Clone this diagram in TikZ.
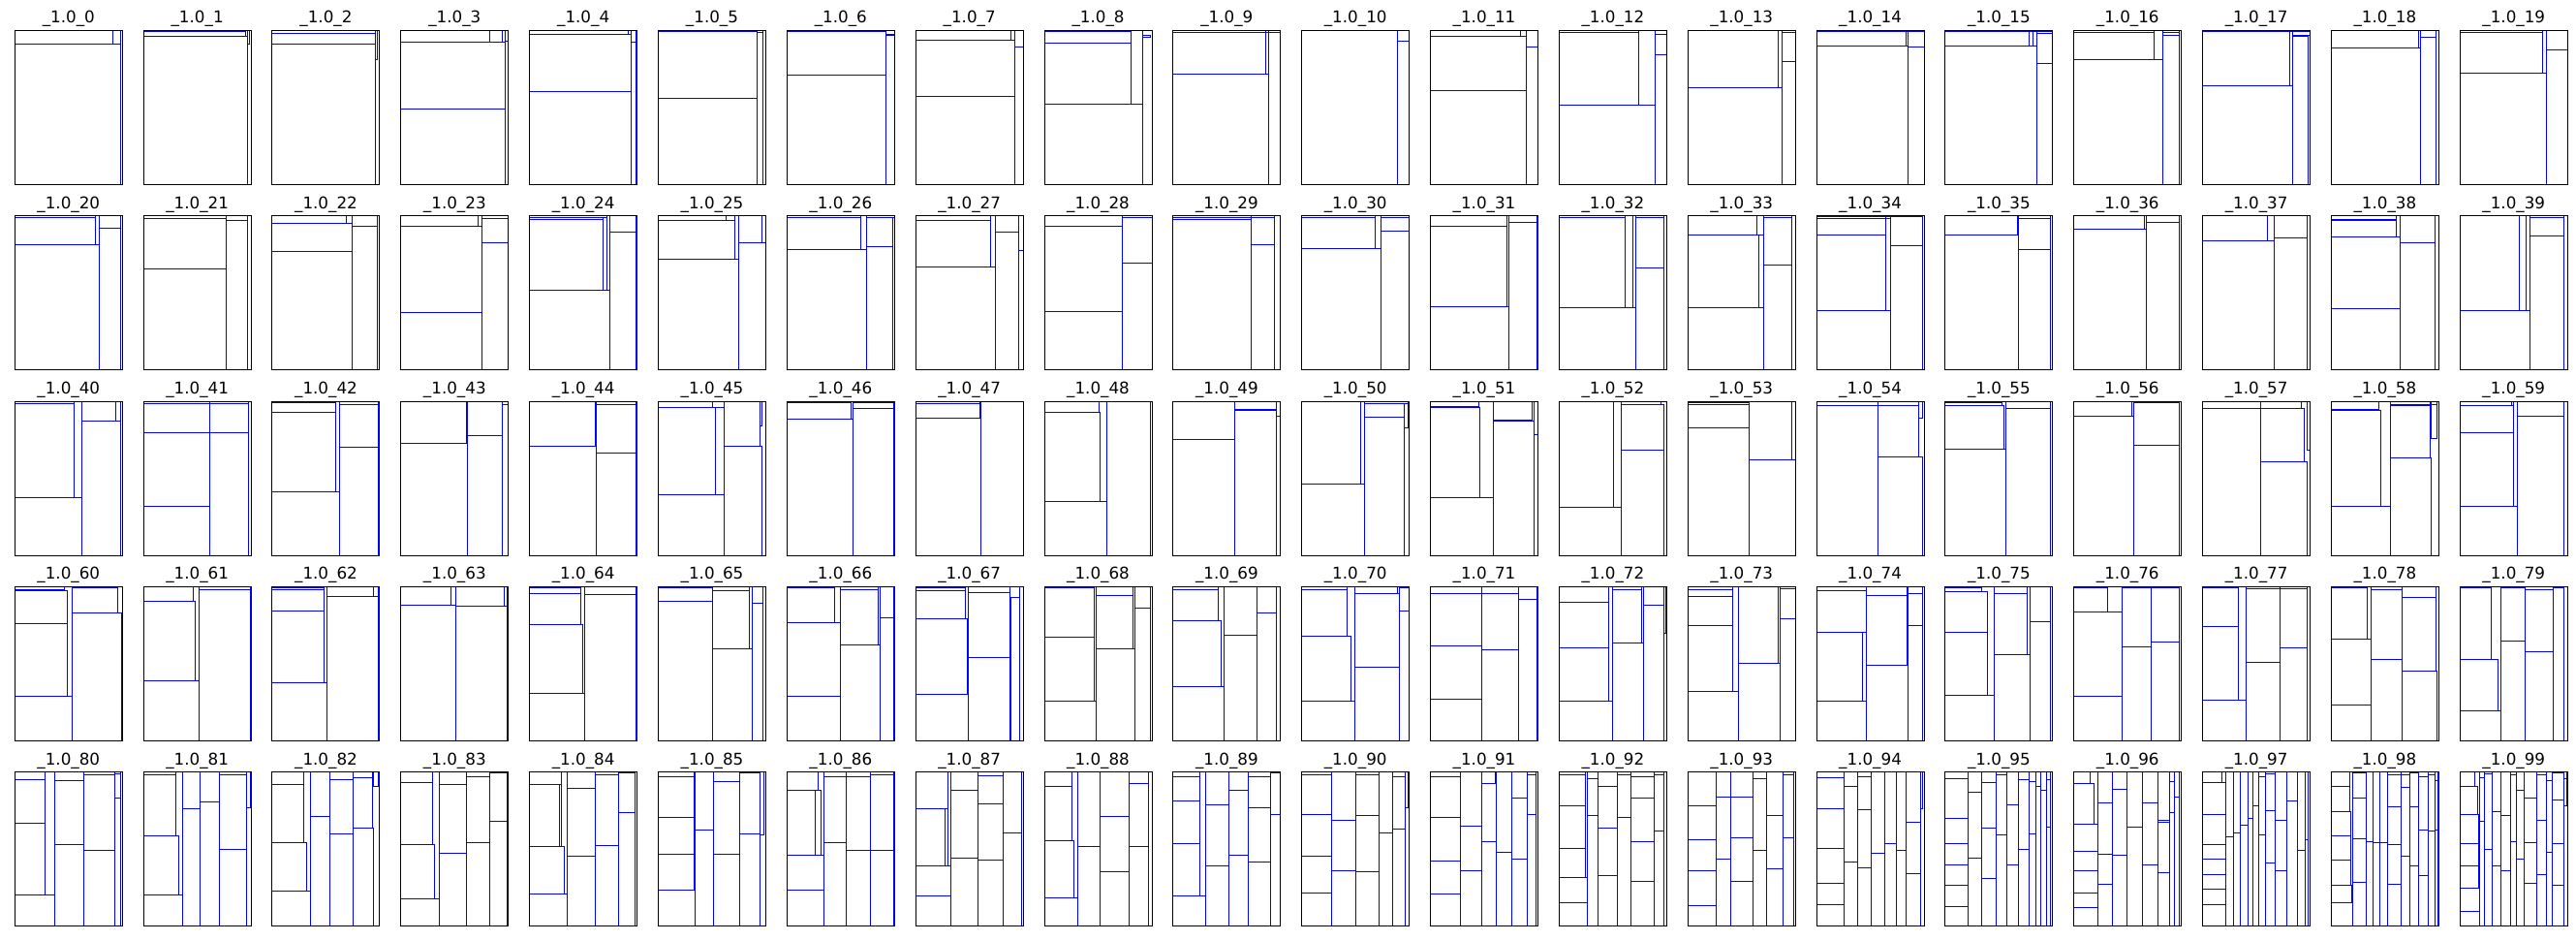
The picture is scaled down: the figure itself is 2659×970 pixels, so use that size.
\documentclass[tikz,border=0pt]{standalone}
\usepackage{fontspec}
\setmainfont{DejaVu Sans}
\tikzset{
  rc/.style={draw=blue, line width=0.3mm},
  frame/.style={draw=black, line width=0.3mm},
  ttl/.style={anchor=base, inner sep=0pt, font=\fontsize{14.3}{17}\selectfont}
}
\newcommand\pnl[4]{%
  \begin{scope}[shift={({15.3+#1*132.84},{31.3+#2*191.35})}]
    \foreach \a/\b/\c/\d in {#4} {\draw[rc] ({\a*1.11},{\b*1.59}) rectangle ({\c*1.11},{\d*1.59});}
    \draw[frame] (0,0) rectangle (111,159);
    \node[ttl] (t#3) at (55.5,-7.5) {\_1.0\_#3};
  \end{scope}}
\begin{document}
\begin{tikzpicture}[x=0.3mm,y=-0.3mm]
\useasboundingbox (0,0) rectangle (2659,970);
% row 0
\pnl{0}{0}{0}{0/0/91.5/8.8, 91.5/0/98.5/8.8, 0/8.8/98.5/100}
\pnl{1}{0}{1}{0/0.7/95.2/3.8, 95.2/0/97/3.8, 0/3.8/97/100, 97/0/98.8/9}
\pnl{2}{0}{2}{0/0/96/1.7, 0/1.7/96/8.8, 0/8.8/96/100, 96/0/98/19}
\pnl{3}{0}{3}{0/0/83/7.8, 83/0/94/7.8, 94/0/97/7.8, 0/7.8/97/51, 0/51/97/100, 97/0/100/7}
\pnl{4}{0}{4}{0/0/91.5/2.5, 91.5/0/94/2.5, 0/2.5/94/40, 0/40/94/100, 94/0/99/7.8, 94/7.8/99/100}
\pnl{5}{0}{5}{0/0/92.3/1, 0/1/92.3/44.4, 0/44.4/92.3/100, 92.3/0/97/1.5, 92.3/1.5/97/100}
\pnl{6}{0}{6}{0/0/92.3/1, 0/1/92.3/29, 0/29/92.3/100, 92.3/0/100/2.5, 92.3/2.5/100/3.5}
\pnl{7}{0}{7}{0/0/89/6.5, 89/0/92.3/6.5, 0/6.5/92.3/43, 0/43/92.3/100, 92.3/0/100/10.5, 92.3/10.5/100/100}
\pnl{8}{0}{8}{0/0/81/1, 0/1/81/8.6, 0/8.6/81/48, 81/0/91/48, 0/48/91/100, 91/3.5/99/4.5}
\pnl{9}{0}{9}{0/0/86/1.5, 0/1.5/86/28.7, 86/1.5/89/28.7, 0/28.7/89/100, 89/0/100/1.5, 89/1.5/100/100}
\pnl{10}{0}{10}{0/0/89/100, 89/0/100/7.3}
\pnl{11}{0}{11}{0/0/84/4.2, 84/0/89/4.2, 0/4.2/89/39, 0/39/89/100, 89/0/100/11, 89/11/100/100}
\pnl{12}{0}{12}{0/0/74/1.5, 0/1.5/74/48.8, 74/0/89/48.8, 0/48.8/89/100, 89/0/100/2.9, 89/2.9/100/15.7, 89/15.7/100/100}
\pnl{13}{0}{13}{0/0/84/37.5, 84/0/87.7/37.5, 0/37.5/87.7/100, 87.7/0/100/1.3, 87.7/1.3/100/20.5, 87.7/20.5/100/100}
\pnl{14}{0}{14}{0/0/100/0.5, 0/0.5/83/10, 83/0.5/85.4/10, 0/10/85.4/100, 85.4/0.5/100/11, 85.4/11/100/100}
\pnl{15}{0}{15}{0/0/100/0.5, 0/0.5/77.7/10, 77.7/0.5/82/10, 82/0.5/85.4/10, 0/10/85.4/100, 85.4/0.5/100/1.9, 85.4/1.9/100/21.4, 85.4/21.4/100/100}
\pnl{16}{0}{16}{0/0/74.6/1.5, 0/1.5/74.6/19, 74.6/0/83/19, 0/19/83/100, 83/0/98/1.5, 83/1.5/98/3, 83/3/98/100}
\pnl{17}{0}{17}{0/0/100/0.5, 0/0.5/80.8/36, 80.8/0.5/83.8/36, 0/36/83.8/100, 83.8/0.5/100/3, 83.8/3/97.7/4, 83.8/4/97.7/100}
\pnl{18}{0}{18}{0/0/80.8/11.7, 80.8/0/83/11.7, 0/11.7/83/100, 83/0/97/4.8, 83/4.8/97/100}
\pnl{19}{0}{19}{0/0/77/1.5, 0/1.5/77/27.5, 77/0/80/27.5, 0/27.5/80/100, 80/0/100/13, 80/13/100/100}
% row 1
\pnl{0}{1}{20}{0/0/75.4/1.2, 0/1.2/75.4/18.5, 75.4/0/78.5/18.5, 0/18.5/78.5/100, 78.5/0/98.5/7.9, 78.5/7.9/98.5/100}
\pnl{1}{1}{21}{0/0/77/1.5, 0/1.5/77/34.4, 0/34.4/77/100, 77/0/97/3.1, 77/3.1/97/100}
\pnl{2}{1}{22}{0/0/69/4.8, 69/0/74.6/4.8, 0/4.8/74.6/23, 0/23/74.6/100, 74.6/0/98/6.7, 74.6/6.7/98/100}
\pnl{3}{1}{23}{0/0/72/6.7, 72/0/75.4/6.7, 0/6.7/75.4/62.5, 0/62.5/75.4/100, 75.4/0/100/2, 75.4/2/100/17.5, 75.4/17.5/100/100}
\pnl{4}{1}{24}{0/0/72/1, 0/1/68.5/2.5, 0/2.5/68.5/48.5, 68.5/1/72/48.5, 0/48.5/74.6/100, 74.6/0/99/10.4, 74.6/10.4/99/100}
\pnl{5}{1}{25}{0/0/63/3.1, 63/0/71.5/3.1, 0/3.1/71.5/28, 71.5/0/74.6/28, 0/28/74.6/100, 74.6/0/96/17.3, 74.6/17.3/100/100}
\pnl{6}{1}{26}{0/0/69/1, 0/1/69/22, 69/0/74/22, 0/22/74/100, 74/0/100/1, 74/1/98.5/19.8, 74/19.8/98.5/100}
\pnl{7}{1}{27}{0/0/70/3.3, 0/3.3/70/33.5, 70/0/74/33.5, 0/33.5/74/100, 74/0/95.4/10.4, 74/10.4/95.4/100, 95.4/0/100/22.3}
\pnl{8}{1}{28}{0/0/72.3/7, 0/7/72.3/62, 0/62/72.3/100, 72.3/0/100/1, 72.3/1/100/30.8, 72.3/30.8/100/100}
\pnl{9}{1}{29}{0/0/72.3/1, 0/1/72.3/2.3, 0/2.3/72.3/100, 72.3/0/94/1.2, 72.3/1.2/94/18.5, 72.3/18.5/94/100}
\pnl{10}{1}{30}{0/0/68.5/1, 0/1/68.5/21, 68.5/0/73.8/21, 0/21/73.8/100, 73.8/0/100/1.2, 73.8/1.2/100/10, 73.8/10/100/100}
\pnl{11}{1}{31}{0/0/70.8/6.7, 0/6.7/70.8/59, 70.8/0/73/59, 0/59/73/100, 73/0/99/4.6, 73/4.6/99/100}
\pnl{12}{1}{32}{0/0/61.5/1, 0/1/61.5/59.6, 61.5/0/68.5/59.6, 68.5/0/71.5/59.6, 0/59.6/71.5/100, 71.5/0/97.7/1, 71.5/1/97.7/33.8, 71.5/33.8/97.7/100}
\pnl{13}{1}{33}{0/0/64.6/12.7, 64.6/0/70.8/12.7, 0/12.7/66/59.6, 66/12.7/70.8/59.6, 0/59.6/70.8/100, 70.8/0/97/1, 70.8/1/97/31.7, 70.8/31.7/97/100}
\pnl{14}{1}{34}{0/0/69/0.8, 0/0.8/64/1.9, 0/1.9/64/12.7, 0/12.7/64/61.7, 64/1.9/69/61.7, 0/61.7/69/100, 69/0/98.5/0.8, 69/0.8/98.5/19.6, 69/19.6/98.5/100}
\pnl{15}{1}{35}{0/0/67/12.3, 67/0/68.5/12.3, 0/12.3/68.5/100, 68.5/0/97.7/2, 68.5/2/97.7/21.7, 68.5/21.7/97.7/100}
\pnl{16}{1}{36}{0/0/65.4/8.5, 65.4/0/67.7/8.5, 0/8.5/67.7/100, 67.7/0/97.7/4.4, 67.7/4.4/97.7/100}
\pnl{17}{1}{37}{0/0/60/16, 60/0/67/16, 0/16/67/100, 67/0/97/14.2, 67/14.2/97/100}
\pnl{18}{1}{38}{0/0/60.8/2.3, 0/2.3/60.8/3.1, 0/3.1/60.8/13.7, 60.8/0/63.8/13.7, 0/13.7/63.8/60.2, 0/60.2/63.8/100, 63.8/0/96/17.7, 63.8/17.7/96/100}
\pnl{19}{1}{39}{0/0/55.4/61.7, 55.4/0/61.5/61.7, 61.5/0/64.6/61.7, 0/61.7/64.6/100, 64.6/0/97/1.2, 64.6/1.2/97/13.3, 64.6/13.3/97/100}
% row 2
\pnl{0}{2}{40}{0/0/55.4/1.7, 0/1.7/55.4/62.5, 55.4/0/62.3/62.5, 0/62.5/62.3/100, 62.3/0/94/13, 94/0/98.5/13, 62.3/13/98.5/100}
\pnl{1}{2}{41}{0/0/61.5/1.5, 0/1.5/61.5/20.6, 0/20.6/61.5/68, 0/68/61.5/100, 61.5/0/97.7/1.5, 61.5/1.5/97.7/20.6, 61.5/20.6/97.7/100}
\pnl{2}{2}{42}{0/0/59/0.8, 0/0.8/59/7.3, 0/7.3/59/58.8, 59/0/62.3/58.8, 0/58.8/62.3/100, 62.3/0/98.5/1.9, 62.3/1.9/98.5/29.6, 62.3/29.6/98.5/100}
\pnl{3}{2}{43}{0/0/60.8/27.5, 60.8/0/62.3/27.5, 0/27.5/62.3/100, 62.3/0/94.6/22.5, 62.3/22.5/94.6/100, 94.6/0/100/2}
\pnl{4}{2}{44}{0/0/61.5/29.4, 0/29.4/62.3/100, 62.3/0/99/2, 62.3/2/99/33.8, 62.3/33.8/99/100}
\pnl{5}{2}{45}{0/0/50/4, 50/0/61.5/4, 0/4/53/60.6, 0/60.6/61.5/100, 61.5/0/94.6/29.4, 94.6/0/96/16, 61.5/29.4/96/100}
\pnl{6}{2}{46}{0/0/60/1.2, 0/1.2/60/11.9, 60/0/61.5/11.9, 0/11.9/61.5/100, 61.5/0/99/1, 61.5/1/99/4.4, 61.5/4.4/99/100}
\pnl{7}{2}{47}{0/0/100/0.6, 0/0.6/60/1.5, 0/1.5/60/11.2, 0/11.2/60.8/100, 60.8/0.6/100/100}
\pnl{8}{2}{48}{0/0/50.8/7.3, 0/7.3/51.5/65, 0/65/58.5/100, 58.5/0.4/99/100}
\pnl{9}{2}{49}{0/0.6/57/24.8, 0/24.8/57/100, 57/0.6/96/5.2, 57/5.8/96/100, 96/0/100/10}
\pnl{10}{2}{50}{0/0/54.6/0.6, 0/0.6/54.6/54, 54.6/0/58.5/54, 0/54/58.5/100, 58.5/0/98.5/1.5, 58.5/1.5/95.4/10.6, 58.5/10.6/95.4/100, 95.4/1.5/98.5/17}
\pnl{11}{2}{51}{0/0.6/44.6/3.5, 0/4.2/46/62.5, 0/62.5/58.5/100, 58.5/0.4/94.6/12.3, 58.5/13.1/96/100, 96/0/100/21.8}
\pnl{12}{2}{52}{0/0/50.8/0.4, 0/0.4/50.8/69, 0/69/57.7/100, 57.7/0/94.6/2, 57.7/2/97.7/32, 57.7/32/97.7/100}
\pnl{13}{2}{53}{0/0/57/0.8, 0/0.8/57/2.5, 0/2.5/57/17.5, 0/17.5/57/100, 57/0/97/38.3, 57/38.3/100/100}
\pnl{14}{2}{54}{0/0/57/0.6, 0/0.6/57/2.7, 0/2.7/57/100, 57/0/95.4/2.7, 57/2.7/95.4/36.3, 57/36.3/98.5/100, 95.4/0/98.5/11}
\pnl{15}{2}{55}{0/0/53/1, 0/1/53/3.1, 0/3.1/54.6/31.3, 0/31.3/56/100, 56/0/97.7/4.4, 56/4.4/97.7/100}
\pnl{16}{2}{56}{0/0/53.8/10, 0/10/55.4/100, 55.4/0.8/97.7/28.3, 55.4/28.3/97.7/100}
\pnl{17}{2}{57}{0/0/53.8/0.6, 0/0.6/53.8/5, 0/5/53.8/100, 53.8/0/91.5/4.4, 53.8/4.4/94.6/39.4, 53.8/39.4/97/100, 97/0/100/31.5}
\pnl{18}{2}{58}{0/0/44.6/0.6, 0/0.6/44.6/5.4, 0/6/46/68, 0/68/54.6/100, 54.6/0/91.5/2.3, 54.6/3.1/91.5/36.9, 54.6/36.9/93/100, 93/0/98.5/2.3, 93/2.3/98.5/24.4}
\pnl{19}{2}{59}{0/0/47.7/0.6, 0/0.6/47.7/3.1, 0/3.1/50/20.2, 0/20.2/50/68, 50/0/53/68, 0/68/53/100, 53/0/97/9.6, 53/9.6/97/100}
% row 3
\pnl{0}{3}{60}{0/0/46/2, 0/2.7/49/23.8, 0/23.8/49/71.3, 0/71.3/53/100, 53/0.6/96/17, 53/17/99/100}
\pnl{1}{3}{61}{0/0/46/9.6, 0/9.6/47.7/61, 0/61/51.5/100, 51.5/0/99/1.7, 51.5/1.7/99/100}
\pnl{2}{3}{62}{0/0/48.5/0.6, 0/0.6/48.5/2, 0/2/48.5/16, 0/16/48.5/62.3, 0/62.3/50.8/100, 50.8/0/94.6/6.3, 94.6/0/98.5/6.3, 50.8/6.3/98.5/100}
\pnl{3}{3}{63}{0/0/47/12, 47/0/50.8/12, 0/12/50.8/100, 50.8/0/96/12.5, 96/0/98.5/12.5, 50.8/12.5/98.5/100}
\pnl{4}{3}{64}{0/0/47.7/0.6, 0/0.6/47.7/4.2, 0/4.8/47.7/24.3, 0/24.3/49.2/69.2, 0/69.2/50.8/100, 50.8/0/99/5, 50.8/5/99/100}
\pnl{5}{3}{65}{0/0/50/0.6, 0/0.6/50/9.6, 0/9.6/50/100, 50/0/84.6/2.7, 50/2.7/84.6/40.4, 50/40.4/87/100, 87/0/97.7/10.7, 87/10.7/97.7/100}
\pnl{6}{3}{66}{0/0/44.6/0.6, 0/0.6/44.6/23.4, 44.6/0/50/23.4, 0/23.4/50/71, 0/71/50/100, 50/0/84.6/2, 50/2/84.6/37.7, 50/37.7/87/100, 87/0/99/20, 87/20/99/100}
\pnl{7}{3}{67}{0/0/46/0.6, 0/0.6/46/2.7, 0/2.7/46/21, 0/21/47.7/69.7, 0/69.7/49.2/100, 49.2/0/87.7/3.6, 49.2/3.6/87.7/46, 49.2/46/87.7/100, 87.7/0/97/7, 89/7/97/100}
\pnl{8}{3}{68}{0/0/46/0.6, 0/0.6/46/32.6, 0/32.6/46/74.5, 0/74.5/48.5/100, 48.5/0/82.3/5.6, 48.5/5.6/82.3/40.4, 48.5/40.4/84/100, 84/0/98.5/14.2, 84/14.2/98.5/100}
\pnl{9}{3}{69}{0/0/42.3/1.7, 0/1.7/42.3/22, 0/22/44.6/64.6, 0/64.6/47.7/100, 47.7/0/77.7/31.4, 47.7/31.4/77.7/100, 77.7/0/96/17, 77.7/17/96/100}
\pnl{10}{3}{70}{0/0/42.3/2, 0/2/42.3/32, 0/32/45.4/74.3, 0/74.3/49.2/100, 49.2/0/89/4.4, 49.2/4.4/90.8/52, 49.2/52/90.8/100, 90.8/0/100/1, 90.8/1/100/16, 90.8/16/100/100}
\pnl{11}{3}{71}{0/0/47.7/4.2, 0/4.2/47.7/38.5, 0/38.5/47.7/72.8, 0/72.8/47.7/100, 47.7/0/81.5/4.2, 47.7/4.2/81.5/40.8, 47.7/40.8/81.5/100, 81.5/0/99/8, 81.5/8/99/100}
\pnl{12}{3}{72}{0/0/46/10, 0/10/46/39.7, 0/39.7/46/74.3, 0/74.3/49.2/100, 49.2/0/77/1.7, 49.2/1.7/77/36.6, 49.2/36.6/78.5/100, 78.5/0/97/12, 78.5/12/97/100, 97/0/99/30}
\pnl{13}{3}{73}{0/0/41.5/1.7, 0/1.7/41.5/6.3, 0/6.3/41.5/25, 0/25/41.5/68, 41.5/0/47/68, 0/68/47/100, 47/0/84/49.8, 47/49.8/85.4/100, 85.4/0/100/1.5, 85.4/1.5/100/20.9, 85.4/20.9/100/100}
\pnl{14}{3}{74}{0/0/46/2.7, 0/2.7/46/29.7, 0/29.7/43/74.3, 43/29.7/46/74.3, 0/74.3/46/100, 46/0/83.8/5.6, 46/5.6/83.8/51, 46/51/85.4/100, 85.4/0/99/4.4, 85.4/4.4/99/25, 85.4/25/99/100}
\pnl{15}{3}{75}{0/0/33.8/0.6, 0/0.6/33.8/3.3, 0/3.3/39.2/29.5, 0/29.5/39.2/70.3, 0/70.3/45.4/100, 45.4/0/76/4.4, 45.4/4.4/76/44, 45.4/44/78.5/100, 78.5/0/97.7/23, 78.5/23/97.7/100}
\pnl{16}{3}{76}{0/0/31.5/0.6, 0/0.6/31.5/16.5, 0/16.5/44.6/71.3, 0/71.3/44.6/100, 44.6/0.6/71.5/39, 44.6/39/71.5/100, 71.5/0.6/97.7/36, 71.5/36/97.7/100}
\pnl{17}{3}{77}{0/0.6/33/26, 0/26/33/73.6, 0/73.6/40.8/100, 40.8/0/72.3/1.5, 40.8/1.5/72.3/49, 40.8/49/72.3/100, 72.3/0/97/1.5, 72.3/1.5/97/40, 72.3/40/97/100}
\pnl{18}{3}{78}{0/0/33/0.6, 0/0.6/33/34, 0/34/37/77, 0/77/37/100, 37/0/65.4/1.7, 37/1.7/65.4/47, 37/47/65.4/100, 65.4/0/97/7.1, 65.4/7.1/97/54.8, 65.4/54.8/98.5/100}
\pnl{19}{3}{79}{0/0.6/29/47.3, 0/47.3/35.4/80.3, 0/80.3/37.7/100, 37.7/0.6/60.8/35.1, 37.7/35.1/60.8/100, 60.8/0/87/2, 60.8/2/87/42.5, 60.8/42.5/87/100, 87/0/97/1, 87/1/97/100}
% row 4
\pnl{0}{4}{80}{0/0/28.5/5.2, 0/5.2/28.5/33, 0/33/28.5/80, 0/80/37/100, 37/0/63.8/5.6, 37/5.6/63.8/47, 37/47/63.8/100, 63.8/0/93/1.9, 63.8/1.9/93/50.8, 63.8/50.8/93/100, 93/0/98.5/1, 93/1/98.5/17, 93/17/98.5/100}
\pnl{1}{4}{81}{0/0/30/1.5, 0/1.5/30/41.4, 0/41.4/33/80, 0/80/36/100, 36/0/53/23.6, 36/23.6/53/100, 53/0/70.8/19.5, 53/19.5/70.8/100, 70.8/0/96/1.5, 70.8/1.5/96/50.2, 70.8/50.2/96/100, 96/0/99/23}
\pnl{2}{4}{82}{0/0/29/8, 0/8/29/46, 0/46/32.3/77.2, 0/77.2/36/100, 36/0/54/28.5, 36/28.5/54/100, 54/0/75.4/5, 54/5/75.4/40.2, 54/40.2/75.4/100, 75.4/0/93/3.8, 75.4/3.8/93/36.4, 75.4/36.4/94.6/100, 94.6/0/99/9.6}
\pnl{3}{4}{83}{0/0/29/6.7, 0/6.7/29/47.3, 0/47.3/31.5/82, 0/82/35.4/100, 35.4/0/60.8/8, 35.4/8/60.8/52.5, 35.4/52.5/60.8/100, 60.8/0/82.3/3.3, 60.8/3.3/82.3/45.5, 60.8/45.5/82.3/100, 82.3/0/98.5/0.6, 82.3/0.6/98.5/32, 82.3/32/98.5/100}
\pnl{4}{4}{84}{0/0/30/8, 0/8/27.7/48.3, 27.7/8/30/48.3, 0/48.3/32.3/79.3, 0/79.3/35.4/100, 35.4/0/60.8/10.7, 35.4/10.7/60.8/54.6, 35.4/54.6/60.8/100, 60.8/0/83/1.5, 60.8/1.5/83/47.5, 60.8/47.5/83/100, 83/0/97.7/0.6, 83/0.6/97.7/26, 83/26/97.7/100}
\pnl{5}{4}{85}{0/0/33/3.3, 0/3.3/33/29.5, 0/29.5/33/53.3, 0/53.3/33/76.6, 0/76.6/34.6/100, 34.6/0/51.5/37.9, 34.6/37.9/51.5/100, 51.5/0/75.4/6, 51.5/6/75.4/53.3, 51.5/53.3/75.4/100, 75.4/0/94.6/0.6, 75.4/0.6/94.6/40, 75.4/40/94.6/100, 94.6/0/98/41}
\pnl{6}{4}{86}{0/0/29/12, 0/12/26/53.8, 26/12/31.5/53.8, 0/53.8/34.6/76.6, 0/76.6/34.6/100, 34.6/0/55.4/3.3, 34.6/3.3/55.4/45.8, 34.6/45.8/55.4/100, 55.4/0/77.7/3.3, 55.4/3.3/77.7/50.8, 55.4/50.8/77.7/100, 77.7/0/99/1.9, 77.7/1.9/99/50.8, 77.7/50.8/99/100}
\pnl{7}{4}{87}{0/0/30/23.5, 0/23.5/27/61, 27/23.5/30/61, 0/61/32.3/80.5, 0/80.5/32.3/100, 32.3/0/57.7/12, 32.3/12/57.7/55.6, 32.3/55.6/57.7/100, 57.7/0/81.5/2.3, 57.7/2.3/81.5/20.5, 57.7/20.5/81.5/56.9, 57.7/56.9/81.5/100, 81.5/0/98.5/39.5, 81.5/39.5/98.5/100}
\pnl{8}{4}{88}{0/0/26/9.6, 0/9.6/26/44.6, 0/44.6/27.7/81.6, 0/81.6/31.5/100, 31.5/0/51.5/48.3, 31.5/48.3/51.5/100, 51.5/0/78.5/28.9, 51.5/28.9/78.5/64.6, 51.5/64.6/78.5/100, 78.5/0/97/7.5, 78.5/7.5/97/48.3, 78.5/48.3/97/100}
\pnl{9}{4}{89}{0/0/24.6/3.3, 0/3.3/24.6/19, 0/19/24.6/46.5, 0/46.5/24.6/80.5, 0/80.5/30/100, 30/0/52.3/21.5, 30/21.5/52.3/60.6, 30/60.6/52.3/100, 52.3/0/70/12, 52.3/12/70/54, 52.3/54/70/100, 70/0/90.8/2.7, 70/2.7/90.8/23.2, 70/23.2/90.8/58.6, 70/58.6/90.8/100, 90.8/0/100/0.6, 90.8/0.6/100/27.6, 90.8/27.6/100/100}
\pnl{10}{4}{90}{0/0/27.7/2, 0/2/27.7/27.6, 0/27.6/27.7/54.6, 0/54.6/27.7/78.7, 0/78.7/27.7/100, 27.7/0/50/31.4, 27.7/31.4/50/64, 27.7/64/50/100, 50/0/72.3/2, 50/2/72.3/28.2, 50/28.2/72.3/64.4, 50/64.4/72.3/100, 72.3/0/84.6/39.7, 72.3/39.7/84.6/100, 84.6/0/96/2.7, 84.6/2.7/96/37, 84.6/37/96/100, 96/0/99/23.4}
\pnl{11}{4}{91}{0/0/27.7/3.3, 0/3.3/27.7/29.5, 0/29.5/27.7/58, 0/58/27.7/79.3, 0/79.3/27.7/100, 27.7/0/47.7/35, 27.7/35/47.7/64, 27.7/64/47.7/100, 47.7/0/60/7.5, 47.7/7.5/60.8/45, 47.7/45/60.8/100, 60.8/0/75.4/52.3, 60.8/52.3/75.4/100, 75.4/0/90/17, 75.4/17/90/56.5, 75.4/56.5/90/100, 90/0/97.7/1.5, 90/1.5/97.7/27.6, 90/27.6/97.7/100}
\pnl{12}{4}{92}{0/0/24.6/1.5, 0/1.5/24.6/22, 0/22/24.6/49.6, 0/49.6/24.6/68.6, 0/68.6/26/84.7, 0/84.7/26/100, 26/0/36/4.4, 26/4.4/36/28.2, 26/28.2/36/100, 36/0/53.8/9.4, 36/9.4/53.8/36.2, 36/36.2/53.8/67, 36/67/53.8/100, 53.8/0/67/1.5, 53.8/1.5/67/29.3, 53.8/29.3/67/100, 67/0/88.5/3.3, 67/3.3/88.5/17, 67/17/88.5/45, 67/45/88.5/70.7, 67/70.7/88.5/100, 88.5/0/97.7/2, 88.5/2/97.7/38.5, 88.5/38.5/97.7/100}
\pnl{13}{4}{93}{0/0/26/22, 0/22/26/43.7, 0/43.7/26/64, 0/64/26/86.8, 0/86.8/26/100, 26/0/40/16.5, 26/16.5/40/56.7, 26/56.7/40/100, 40/0/60.8/16.5, 40/16.5/60.8/42.5, 40/42.5/60.8/71, 40/71/60.8/100, 60.8/0/73/4, 60.8/4/73/51, 60.8/51/73/100, 73/0/88.5/28.2, 73/28.2/88.5/63, 73/63/88.5/100, 88.5/0/98.5/1.5, 88.5/1.5/98.5/42.7, 88.5/42.7/98.5/100}
\pnl{14}{4}{94}{0/0/25.4/3.8, 0/3.8/25.4/23.6, 0/23.6/25.4/49.8, 0/49.8/25.4/72, 0/72/25.4/86, 0/86/25.4/100, 25.4/0/38.5/9.4, 25.4/9.4/38.5/58.4, 25.4/58.4/38.5/100, 38.5/0/50.8/3.3, 38.5/3.3/50.8/24.3, 38.5/24.3/50.8/62, 38.5/62/50.8/100, 50.8/0/63.8/52.7, 50.8/52.7/63.8/100, 63.8/0/73.8/46.4, 63.8/46.4/73.8/100, 73.8/0/83/50.8, 73.8/50.8/83/100, 83/0/97/32.6, 83/32.6/97/65.7, 83/65.7/97/100, 97/0/99/24}
\pnl{15}{4}{95}{0/0/20.8/4, 0/4/20.8/30, 0/30/20.8/46.4, 0/46.4/20.8/60.5, 0/60.5/20.8/73.2, 0/73.2/20.8/87.4, 0/87.4/20.8/100, 20.8/0/33.8/12.8, 20.8/12.8/33.8/55.6, 20.8/55.6/33.8/100, 33.8/0/47.7/6.7, 33.8/6.7/47.7/36.4, 33.8/36.4/47.7/69, 33.8/69/47.7/100, 47.7/0/57/1.9, 47.7/1.9/57/41, 47.7/41/57/100, 57/0/68.5/21, 57/21/68.5/60.2, 57/60.2/68.5/100, 68.5/0/77.7/5.2, 68.5/5.2/77.7/50.4, 68.5/50.4/77.7/100, 77.7/0/84.6/5.9, 77.7/5.9/84.6/40, 77.7/40/84.6/100, 84.6/0/89/9.6, 84.6/9.6/89/100, 89/0/93.8/11.5, 89/11.5/93.8/100, 93.8/0/97.7/5.2, 93.8/5.2/97.7/36, 93.8/36/97.7/100}
\pnl{16}{4}{96}{0/0/15.4/7.7, 0/7.7/18.5/34, 0/34/22.3/51.7, 0/51.7/22.3/64, 0/64/22.3/78.7, 0/78.7/22.3/87.9, 0/87.9/22.3/100, 22.3/0/35.4/20, 22.3/20/35.4/53.3, 22.3/53.3/35.4/73, 22.3/73/35.4/100, 35.4/0/49.2/11.3, 35.4/11.3/49.2/54, 35.4/54/49.2/100, 49.2/0/63.8/35.8, 49.2/35.8/63.8/100, 63.8/0/77.7/20, 63.8/20/77.7/60, 63.8/60/77.7/100, 77.7/0/88.5/31.4, 77.7/32.4/88.5/65, 77.7/65/88.5/100, 88.5/0/93.8/6, 88.5/6/93.8/26, 88.5/26/93.8/100, 93.8/0/97.7/16.5, 93.8/16.5/97.7/100}
\pnl{17}{4}{97}{0/0/17.7/6.7, 0/6.7/21.5/27.6, 0/27.6/21.5/47.3, 0/47.3/21.5/56.6, 0/56.6/21.5/66.5, 0/66.5/21.5/75.9, 0/75.9/21.5/86.2, 0/86.2/21.5/100, 21.5/0/29/42, 21.5/42/29/100, 29/0/34.6/39.5, 29/39.5/34.6/100, 34.6/0/42.3/34.5, 34.6/34.5/42.3/100, 42.3/0/47/30, 42.3/30/47/100, 47/0/52.3/21.7, 47/21.7/52.3/100, 52.3/0/58.5/2.9, 52.3/2.9/58.5/41, 52.3/41/58.5/100, 58.5/0/67.7/1, 58.5/1/67.7/25, 58.5/25/67.7/59, 58.5/59/67.7/100, 67.7/0/78.5/31, 67.7/31/78.5/64, 67.7/64/78.5/100, 78.5/0/88.5/19, 78.5/19/88.5/100, 88.5/0/95.4/51, 88.5/51/95.4/100, 95.4/0/98.5/44, 95.4/44/98.5/100}
\pnl{18}{4}{98}{0/0/16.8/9.2, 0/9.2/17.4/25.6, 0/25.6/18/41.4, 0/41.4/18/57.4, 0/57.4/18.3/73.7, 0/73.7/19/85, 0/85/19.5/100, 19.5/0/32.4/0.8, 19.5/0.8/32.4/16.8, 19.5/16.8/32.4/43.3, 19.5/43.3/32.4/71.6, 19.5/71.6/32.4/100, 32.4/0/38.7/45.4, 32.4/45.4/38.7/100, 38.7/0/45/45.8, 38.7/45.8/45/100, 45/0/52.3/45.8, 45/45.8/52.3/100, 52.3/0/64.6/1.5, 52.3/1.5/64.6/22.5, 52.3/22.5/64.6/47, 52.3/47/64.6/73, 52.3/73/64.6/100, 64.6/0/73/1.5, 64.6/1.5/73/9.9, 64.6/9.9/73/54.8, 64.6/54.8/73/100, 73/0/81.4/0.8, 73/0.8/81.4/22.5, 73/22.5/81.4/61, 73/61/81.4/100, 81.4/0/90.4/2.7, 81.4/2.7/90.4/37.6, 81.4/37.6/90.4/67.2, 81.4/67.2/90.4/100, 90.4/0/96.4/1.9, 90.4/1.9/96.4/38.4, 90.4/38.4/96.4/100, 96.4/0/99.4/5.7, 96.4/5.7/99.4/37.6, 96.4/37.6/99.4/100}
\pnl{19}{4}{99}{0/0/14/9.2, 0/9.2/16.2/27.7, 0/27.7/17.7/46.2, 0/46.2/17.7/61, 0/61/17.7/75.2, 0/75.2/18/90.3, 0/90.3/18.3/100, 18.3/0/23/3.4, 18.3/3.4/23/31.7, 18.3/31.7/23/100, 23/0/29.6/1.3, 23/1.3/29.6/50.4, 23/50.4/29.6/100, 29.6/0/37.7/25.6, 29.6/25.6/37.7/61, 29.6/61/37.7/100, 37.7/0/46.7/27.9, 37.7/27.9/46.7/64, 37.7/64/46.7/100, 46.7/0/52/1.9, 46.7/1.9/52/45.2, 46.7/45.2/52/100, 52/0/59.6/11.8, 52/11.8/59.6/56.7, 52/56.7/59.6/100, 59.6/0/71/16.8, 59.6/16.8/71/45.8, 59.6/45.8/71/72.5, 59.6/72.5/71/100, 71/0/80/1.5, 71/1.5/80/31.3, 71/31.3/80/66.8, 71/66.8/80/100, 80/0/86.2/5.5, 80/5.5/86.2/52, 80/52/86.2/100, 86.2/0/97/0.8, 86.2/0.8/97/18.3, 86.2/18.3/97/46.2, 86.2/46.2/97/73.7, 86.2/73.7/97/100, 97/0/99.5/4.4, 97/4.4/99.5/22}
\end{tikzpicture}
\end{document}
